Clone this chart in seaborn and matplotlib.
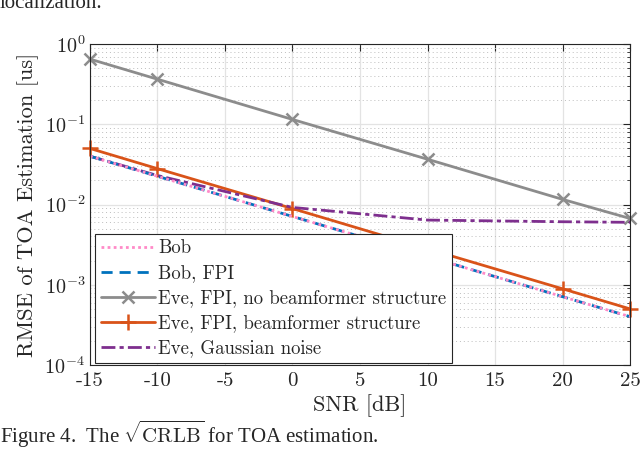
import numpy as np
import pandas as pd
import matplotlib
matplotlib.use("Agg")
import matplotlib.pyplot as plt
import matplotlib.ticker as mticker
import seaborn as sns

# ---- data ----
snr = [-15, -10, 0, 10, 20, 25]
bob = [0.040, 0.0225, 0.0071, 0.00225, 0.00071, 0.00040]
bob_fpi = [0.040, 0.0225, 0.0071, 0.00225, 0.00071, 0.00040]
eve_nobf = [0.65, 0.365, 0.115, 0.0367, 0.0116, 0.0067]
eve_bf = [0.050, 0.028, 0.0089, 0.0028, 0.00089, 0.00050]
eve_gauss = [0.040, 0.023, 0.0092, 0.0064, 0.0061, 0.0060]

labels = ["Bob", "Bob, FPI", "Eve, FPI, no beamformer structure",
          "Eve, FPI, beamformer structure", "Eve, Gaussian noise"]
xticks = [-15, -10, -5, 0, 5, 10, 15, 20, 25]

sns.set_style("white")
plt.rcParams["font.family"] = ["cmr10", "DejaVu Serif"]
plt.rcParams["mathtext.fontset"] = "cm"
plt.rcParams["axes.formatter.use_mathtext"] = True
plt.rcParams["axes.unicode_minus"] = False

fig = plt.figure(figsize=(6.4, 4.5), dpi=100)
ax = fig.add_axes([0.1406, 0.189, 0.8438, 0.713])

colors = ["#FF8AC8", "#0072BD", "#8C8C8C", "#D95319", "#7E2F8E"]
styles = [
    dict(linestyle=(0, (1, 1.2)), linewidth=2.0),
    dict(linestyle=(0, (4, 2.5)), linewidth=2.0),
    dict(linestyle="-", linewidth=2.0, marker="x", markersize=8, markeredgewidth=1.8),
    dict(linestyle="-", linewidth=2.0, marker="+", markersize=11, markeredgewidth=1.8),
    dict(linestyle=(0, (5, 1.5, 1.5, 1.5)), linewidth=2.0),
]
series = [bob, bob_fpi, eve_nobf, eve_bf, eve_gauss]
draw_order = [2, 3, 4, 1, 0]
for i in draw_order:
    df = pd.DataFrame({"snr": snr, "val": series[i]})
    st = dict(styles[i])
    if "marker" in st:
        st["markeredgecolor"] = colors[i]
        st["markerfacecolor"] = colors[i]
        st["clip_on"] = False
    sns.lineplot(data=df, x="snr", y="val", ax=ax, label=labels[i], color=colors[i], **st)

ax.set_yscale("log")
ax.set_xlim(-15, 25)
ax.set_ylim(1e-4, 1)
ax.set_xticks(xticks)
ax.xaxis.set_major_formatter(mticker.FuncFormatter(lambda v, p: f"{int(round(v))}"))
ax.yaxis.set_major_locator(mticker.LogLocator(base=10, numticks=10))
ax.yaxis.set_minor_locator(mticker.LogLocator(base=10, subs=np.arange(2, 10), numticks=100))
ax.yaxis.set_minor_formatter(mticker.NullFormatter())

ax.grid(True, which="major", color="#E3E3E3", linewidth=0.9, linestyle="-")
ax.grid(True, which="minor", axis="y", color="#BDBDBD", linewidth=0.7, linestyle=(0, (1, 3)))
ax.set_axisbelow(True)

ax.tick_params(which="both", direction="in", top=True, right=True, color="#262626")
ax.tick_params(axis="x", labelsize=15, pad=5)
ax.tick_params(axis="y", labelsize=14.5)
ax.tick_params(which="major", length=5, width=0.8)
ax.tick_params(which="minor", length=2.5, width=0.6)
ax.tick_params(axis="x", which="minor", top=False, bottom=False)
for s in ax.spines.values():
    s.set_color("#262626")
    s.set_linewidth(0.8)

ax.set_xlabel("SNR [dB]", fontsize=16, labelpad=3)
ax.set_ylabel("RMSE of TOA Estimation [us]", fontsize=16.2, labelpad=4)

h, l = ax.get_legend_handles_labels()
order = [l.index(x) for x in labels]
leg = ax.legend([h[k] for k in order], [l[k] for k in order], loc="lower left",
                bbox_to_anchor=(0.006, 0.0), fontsize=13.5, frameon=True, fancybox=False,
                edgecolor="#262626", framealpha=1.0, handlelength=2.9, handletextpad=0.15,
                labelspacing=0.38, borderpad=0.3, borderaxespad=0.1)
leg.get_frame().set_linewidth(0.8)
leg.set_zorder(10)

fig.text(0.0, 1 - 8 / 450, "localization.", fontsize=15, family=["Liberation Serif"],
         ha="left", va="baseline")
fig.text(0.0, 1 - 443 / 450, r"Figure 4.  The $\sqrt{\mathrm{CRLB}}$ for TOA estimation.",
         fontsize=15, family=["Liberation Serif"], ha="left", va="baseline")

fig.savefig("out.png", dpi=100)
